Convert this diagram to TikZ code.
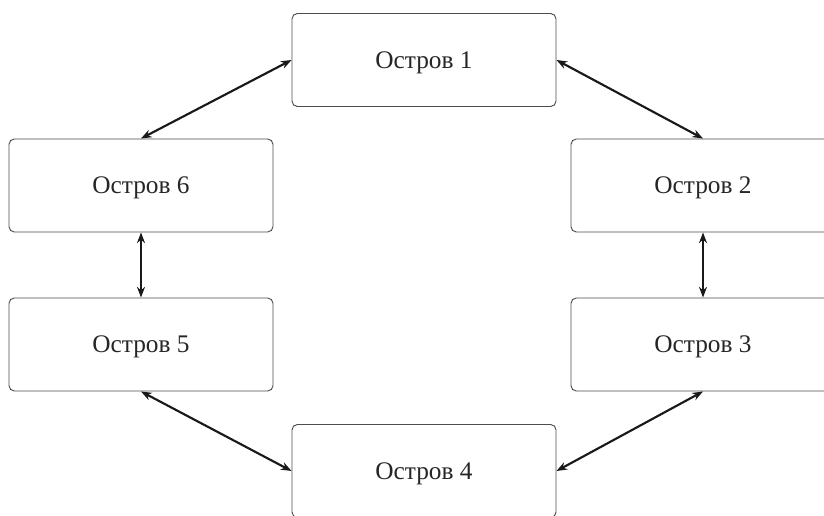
\documentclass[tikz,border=0pt]{standalone}
\usepackage{fontspec}
\setmainfont{Liberation Serif}
\usetikzlibrary{arrows.meta}
\begin{document}
\begin{tikzpicture}[x=0.75pt,y=-0.75pt,
  island/.style={draw=black!70, line width=0.7pt, rounded corners=4pt,
    minimum width=198pt, minimum height=69.75pt, inner sep=0pt,
    text depth=-1.5pt,
    font=\fontsize{19}{21}\selectfont, text=black!85},
  link/.style={line width=1.6pt, draw=black!90,
    {Stealth[length=8pt,width=6pt]}-{Stealth[length=8pt,width=6pt]}}]
  \useasboundingbox (0,0) rectangle (824,516);
  \clip (0,0) rectangle (824,516);
  \node[island] (i1) at (424,60)    {Остров 1};
  \node[island] (i2) at (703,185.5) {Остров 2};
  \node[island] (i3) at (703,344.5) {Остров 3};
  \node[island] (i4) at (424,471)   {Остров 4};
  \node[island] (i5) at (141,344.5) {Остров 5};
  \node[island] (i6) at (141,185.5) {Остров 6};
  \draw[link] (i1.east) -- (i2.north);
  \draw[link] (i2.south) -- (i3.north);
  \draw[link] (i3.south) -- (i4.east);
  \draw[link] (i5.south) -- (i4.west);
  \draw[link] (i6.south) -- (i5.north);
  \draw[link] (i1.west) -- (i6.north);
\end{tikzpicture}
\end{document}
